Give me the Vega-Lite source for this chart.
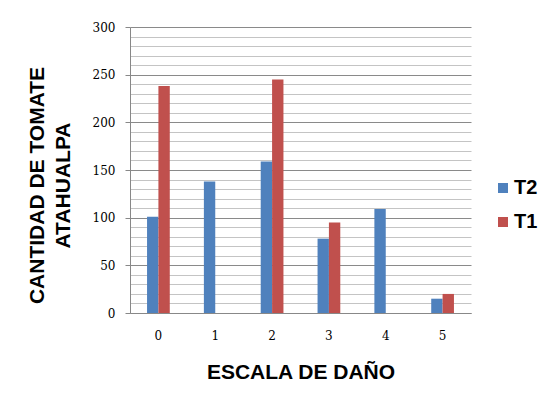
{
  "$schema": "https://vega.github.io/schema/vega-lite/v6.json",
  "autosize": {"type": "none"},
  "width": 341,
  "height": 286,
  "padding": {"left": 130, "top": 27, "right": 78, "bottom": 87},
  "background": "white",
  "config": {"view": {"stroke": null}},
  "data": {
    "values": [
      {"escala": "0", "serie": "T2", "cantidad": 101},
      {"escala": "0", "serie": "T1", "cantidad": 238},
      {"escala": "1", "serie": "T2", "cantidad": 138},
      {"escala": "1", "serie": "T1", "cantidad": 0},
      {"escala": "2", "serie": "T2", "cantidad": 159},
      {"escala": "2", "serie": "T1", "cantidad": 245},
      {"escala": "3", "serie": "T2", "cantidad": 78},
      {"escala": "3", "serie": "T1", "cantidad": 95},
      {"escala": "4", "serie": "T2", "cantidad": 109},
      {"escala": "4", "serie": "T1", "cantidad": 0},
      {"escala": "5", "serie": "T2", "cantidad": 15},
      {"escala": "5", "serie": "T1", "cantidad": 20}
    ]
  },
  "mark": {"type": "bar"},
  "encoding": {
    "x": {
      "field": "escala",
      "type": "nominal",
      "sort": ["0", "1", "2", "3", "4", "5"],
      "scale": {"paddingInner": 0.6, "paddingOuter": 0.3},
      "axis": {
        "title": "ESCALA DE DAÑO",
        "titleFont": "Liberation Sans",
        "titleFontSize": 21,
        "titleFontWeight": "bold",
        "titleColor": "#000000",
        "titleBaseline": "alphabetic",
        "titleY": 65,
        "labelAngle": 0,
        "labelFont": "DejaVu Serif",
        "labelFontSize": 12,
        "labelColor": "#000000",
        "labelPadding": 17,
        "ticks": false,
        "domainColor": "#888888",
        "domainWidth": 1
      }
    },
    "xOffset": {"field": "serie", "type": "nominal", "sort": ["T2", "T1"]},
    "y": {
      "field": "cantidad",
      "type": "quantitative",
      "scale": {"domain": [0, 300], "nice": false},
      "axis": {
        "title": ["CANTIDAD DE TOMATE", "ATAHUALPA"],
        "titleFont": "Liberation Sans",
        "titleFontSize": 21,
        "titleFontWeight": "bold",
        "titleColor": "#000000",
        "titleAngle": -90,
        "titleAlign": "center",
        "titleBaseline": "alphabetic",
        "titleLineHeight": 26,
        "titleX": -87,
        "titleY": 158,
        "values": [0, 10, 20, 30, 40, 50, 60, 70, 80, 90, 100, 110, 120, 130, 140, 150, 160, 170, 180, 190, 200, 210, 220, 230, 240, 250, 260, 270, 280, 290, 300],
        "labelExpr": "datum.value % 50 === 0 ? datum.label : ''",
        "labelFont": "DejaVu Serif",
        "labelFontSize": 12,
        "labelColor": "#000000",
        "labelPadding": 10,
        "tickSize": 5,
        "tickColor": "#888888",
        "tickOpacity": {"condition": {"test": "datum.value % 50 === 0", "value": 1}, "value": 0},
        "domainColor": "#888888",
        "grid": true,
        "gridColor": {"condition": {"test": "datum.value % 50 === 0", "value": "#8a8a8a"}, "value": "#c4c4c4"},
        "gridWidth": 1
      }
    },
    "color": {
      "field": "serie",
      "type": "nominal",
      "scale": {"domain": ["T2", "T1"], "range": ["#4F81BD", "#C0504D"]},
      "legend": {
        "title": null,
        "orient": "none",
        "legendX": 363,
        "legendY": 151,
        "symbolType": "square",
        "symbolSize": 100,
        "symbolStrokeWidth": 0,
        "labelFont": "Liberation Sans",
        "labelFontSize": 20,
        "labelFontWeight": "bold",
        "labelColor": "#000000",
        "labelOffset": 1,
        "rowPadding": 14
      }
    }
  }
}
